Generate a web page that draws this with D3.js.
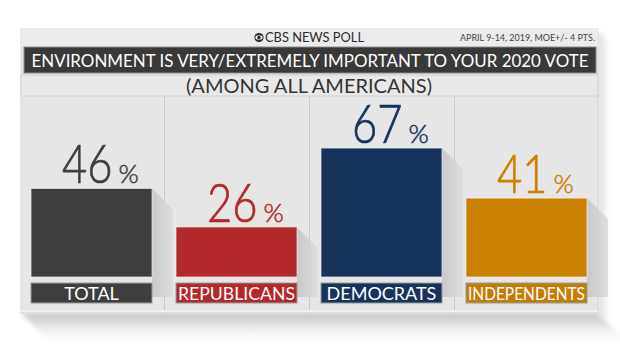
<!DOCTYPE html>
<html><head><meta charset="utf-8">
<script src="https://cdn.jsdelivr.net/npm/d3@7"></script>
<style>
html,body{margin:0;padding:0;background:#fff;}
svg{display:block;}
text{font-family:Lato,"Open Sans",sans-serif;}
</style></head>
<body>
<svg id="chart" width="620" height="349"></svg>
<script>
const categories = ["TOTAL","REPUBLICANS","DEMOCRATS","INDEPENDENTS"];
const values = [46, 26, 67, 41];
const barColors = ["#3e3e3e","#b3282a","#17335b","#cc8000"];
const labelColors = ["#3e3e3e","#b3282a","#17335b","#c47c04"];
const headerText = "CBS NEWS POLL";
const dateText = "APRIL 9-14, 2019, MOE+/- 4 PTS.";
const titleText = "ENVIRONMENT IS VERY/EXTREMELY IMPORTANT TO YOUR 2020 VOTE";
const subtitleText = "(AMONG ALL AMERICANS)";

const svg = d3.select("#chart");
const defs = svg.append("defs");

const card = {x0:21, y0:29, x1:598, y1:313};

// shadows of the card
const gB = defs.append("linearGradient").attr("id","shB").attr("x1",0).attr("y1",0).attr("x2",0).attr("y2",1);
gB.append("stop").attr("offset",0).attr("stop-color","#bdbdbd");
gB.append("stop").attr("offset",1).attr("stop-color","#ffffff").attr("stop-opacity",0);
const gR = defs.append("linearGradient").attr("id","shR").attr("x1",0).attr("y1",0).attr("x2",1).attr("y2",0);
gR.append("stop").attr("offset",0).attr("stop-color","#d0d0d0");
gR.append("stop").attr("offset",1).attr("stop-color","#ffffff").attr("stop-opacity",0);
const blur = defs.append("filter").attr("id","blur").attr("x","-20%").attr("y","-20%").attr("width","140%").attr("height","140%");
blur.append("feGaussianBlur").attr("stdDeviation",2.5);

const sh = 34;
svg.append("polygon").attr("filter","url(#blur)")
  .attr("points",[[card.x0,card.y1],[card.x1,card.y1],[card.x1+sh,card.y1+sh],[card.x0+sh,card.y1+sh]].join(" "))
  .attr("fill","url(#shB)");
svg.append("polygon").attr("filter","url(#blur)")
  .attr("points",[[card.x1,card.y0+2],[card.x1+14,card.y0+16],[card.x1+14,card.y1+14],[card.x1,card.y1]].join(" "))
  .attr("fill","url(#shR)");

// card body
svg.append("rect").attr("x",card.x0).attr("y",card.y0).attr("width",card.x1-card.x0).attr("height",card.y1-card.y0)
  .attr("fill","#e6e6e6").attr("stroke","#d6d6d6");

// header row
svg.append("rect").attr("x",card.x0).attr("y",card.y0).attr("width",card.x1-card.x0).attr("height",18)
  .attr("fill","#ececec");
const hdr = svg.append("g");
// CBS eye logo
const eyeX = 259, eyeY = 37.5;
hdr.append("circle").attr("cx",eyeX).attr("cy",eyeY).attr("r",4.6).attr("fill","#2b2b2b");
hdr.append("ellipse").attr("cx",eyeX).attr("cy",eyeY).attr("rx",3.6).attr("ry",2.2).attr("fill","#ececec");
hdr.append("circle").attr("cx",eyeX).attr("cy",eyeY).attr("r",1.7).attr("fill","#2b2b2b");
hdr.append("text").attr("x",265).attr("y",42).attr("font-size",13).attr("fill","#2b2b2b")
  .attr("textLength",99).attr("lengthAdjust","spacingAndGlyphs").text(headerText);
hdr.append("text").attr("x",595).attr("y",40.5).attr("text-anchor","end").attr("font-size",10).attr("fill","#444")
  .attr("textLength",135).attr("lengthAdjust","spacingAndGlyphs").text(dateText);

// title bar
svg.append("rect").attr("x",24).attr("y",47).attr("width",572).attr("height",26)
  .attr("fill","#393939").attr("stroke","#8a8a8a").attr("stroke-width",1);
svg.append("text").attr("x",310).attr("y",67).attr("text-anchor","middle").attr("font-size",17.5)
  .attr("fill","#fff").attr("textLength",557).attr("lengthAdjust","spacingAndGlyphs").text(titleText);

// subtitle row
svg.append("rect").attr("x",card.x0).attr("y",75).attr("width",card.x1-card.x0).attr("height",21)
  .attr("fill","#e9e9e9").attr("stroke","#d0d0d0");
svg.append("text").attr("x",309).attr("y",92.5).attr("text-anchor","middle").attr("font-size",20)
  .attr("fill","#333").attr("textLength",246).attr("lengthAdjust","spacingAndGlyphs").text(subtitleText);

// scales
const colX = d3.scaleBand().domain(categories).range([19,599]).padding(0);
const x = d3.scaleBand().domain(categories).range([19,599]).paddingInner(0.1655).paddingOuter(0.0828);
const y = d3.scaleLinear().domain([0,100]).range([277,84.5]);

// column dividers
svg.append("g").selectAll("line").data(categories.slice(1)).join("line")
  .attr("x1",d=>colX(d)+0.5).attr("x2",d=>colX(d)+0.5).attr("y1",97).attr("y2",card.y1)
  .attr("stroke","#c9c9c9");
// bottom strip
svg.append("line").attr("x1",card.x0).attr("x2",card.x1).attr("y1",card.y1-2).attr("y2",card.y1-2)
  .attr("stroke","#f2f2f2").attr("stroke-width",2);

// bar long shadows
const gS = defs.append("linearGradient").attr("id","barSh").attr("x1",0).attr("y1",0).attr("x2",1).attr("y2",0);
gS.append("stop").attr("offset",0).attr("stop-color","#c6c6c6");
gS.append("stop").attr("offset",1).attr("stop-color","#dcdcdc");
const data = categories.map((c,i)=>({c, v:values[i], col:barColors[i], lc:labelColors[i]}));
svg.append("g").selectAll("polygon").data(data).join("polygon")
  .attr("points",d=>{const xr=x(d.c)+x.bandwidth(), t=y(d.v), s=21;
    return [[xr,t],[xr+s,t+s],[xr+s,297],[xr,297]].join(" ");})
  .attr("fill","url(#barSh)").attr("opacity",0.9);

// bars
svg.append("g").selectAll("rect").data(data).join("rect")
  .attr("x",d=>x(d.c)).attr("y",d=>y(d.v)).attr("width",x.bandwidth()).attr("height",d=>y(0)-y(d.v))
  .attr("fill",d=>d.col).attr("stroke","#f0f0f0").attr("stroke-opacity",0.7);

// category labels
const lab = svg.append("g").selectAll("g").data(data).join("g");
lab.append("rect").attr("x",d=>x(d.c)).attr("y",283).attr("width",x.bandwidth()).attr("height",20)
  .attr("fill",d=>d.lc).attr("stroke","#9a9a9a");
lab.append("text").attr("x",d=>x(d.c)+x.bandwidth()/2).attr("y",299.5).attr("text-anchor","middle")
  .attr("font-size",18).attr("fill","#fff").text(d=>d.c)
  .each(function(){const w=this.getComputedTextLength(); if(w>x.bandwidth()-4){d3.select(this).attr("textLength",x.bandwidth()-4).attr("lengthAdjust","spacingAndGlyphs");}});

// value labels: number (tall, narrow) and a separate smaller %
const vg = svg.append("g").selectAll("g").data(data).join("g");
vg.append("text")
  .attr("transform",d=>`translate(${x(d.c)+x.bandwidth()/2+21},${y(d.v)-5}) scale(1,1.22)`)
  .attr("text-anchor","end").attr("font-size",43.5).attr("font-weight",300).attr("fill",d=>d.col)
  .attr("stroke",d=>d.col).attr("stroke-width",0.6)
  .text(d=>d.v);
vg.append("text").attr("x",d=>x(d.c)+x.bandwidth()/2+27).attr("y",d=>y(d.v)-5)
  .attr("font-size",26).attr("font-weight",300).attr("fill",d=>d.col)
  .attr("stroke",d=>d.col).attr("stroke-width",0.5).text("%");
</script>
</body></html>
